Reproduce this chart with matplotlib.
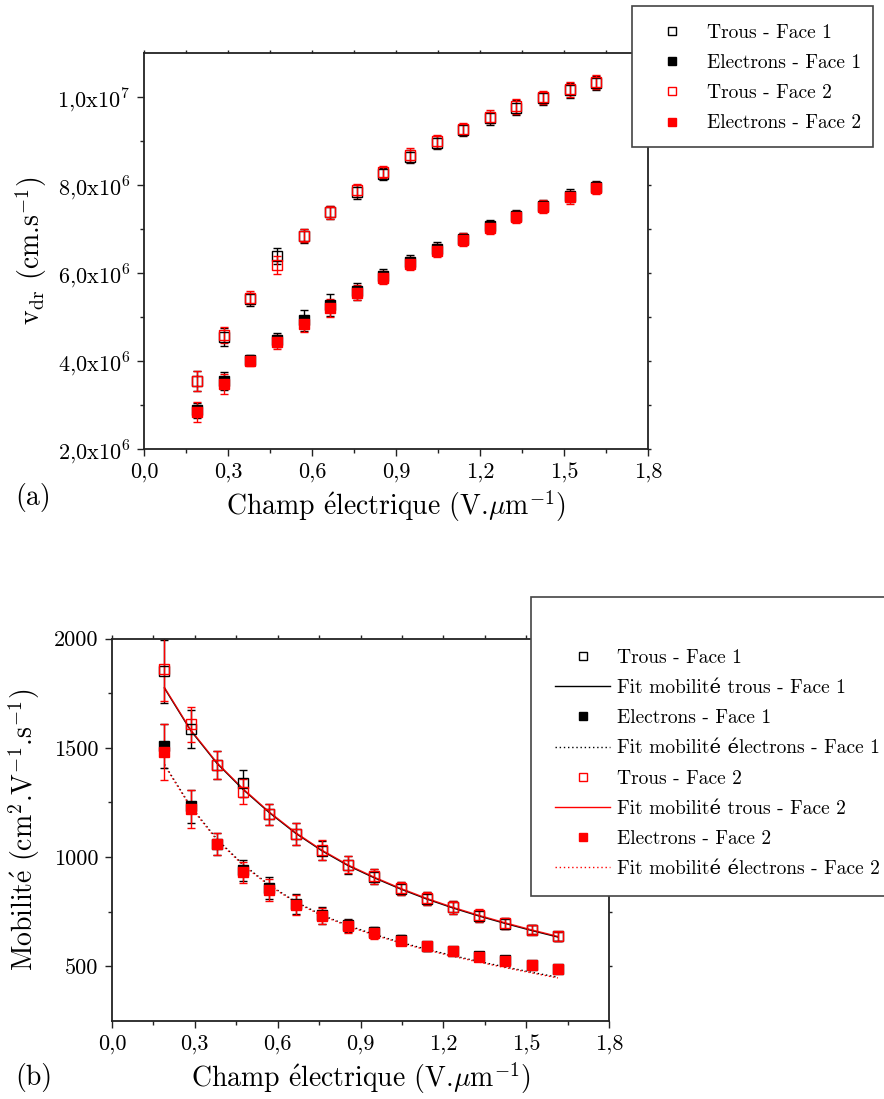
import matplotlib
matplotlib.use("Agg")
import matplotlib.pyplot as plt
from matplotlib.lines import Line2D
from matplotlib.patches import Rectangle
from matplotlib.ticker import FixedLocator, FixedFormatter

# ---------------- data ----------------
E = [0.19, 0.285, 0.38, 0.475, 0.57, 0.665, 0.76, 0.855, 0.95, 1.045, 1.14, 1.235, 1.33, 1.425, 1.52, 1.615]

# (a) drift velocity, in units of 1e6 cm/s
vh1 = [3.55, 4.55, 5.40, 6.38, 6.84, 7.38, 7.84, 8.25, 8.64, 8.96, 9.25, 9.52, 9.76, 9.97, 10.15, 10.32]
vh2 = [3.55, 4.60, 5.44, 6.18, 6.85, 7.38, 7.88, 8.29, 8.68, 8.99, 9.28, 9.55, 9.79, 9.99, 10.18, 10.35]
ve1 = [2.88, 3.55, 4.02, 4.47, 4.93, 5.27, 5.58, 5.93, 6.26, 6.55, 6.78, 7.06, 7.30, 7.53, 7.76, 7.96]
ve2 = [2.84, 3.48, 4.00, 4.43, 4.84, 5.21, 5.55, 5.89, 6.21, 6.51, 6.76, 7.03, 7.28, 7.51, 7.72, 7.93]
evh1 = [0.23, 0.20, 0.14, 0.18, 0.15, 0.15, 0.15, 0.14, 0.15, 0.15, 0.14, 0.15, 0.17, 0.15, 0.17, 0.16]
evh2 = [0.23, 0.18, 0.14, 0.20, 0.15, 0.15, 0.15, 0.14, 0.15, 0.15, 0.14, 0.15, 0.17, 0.15, 0.17, 0.16]
eve1 = [0.17, 0.20, 0.12, 0.16, 0.24, 0.25, 0.20, 0.15, 0.15, 0.15, 0.14, 0.14, 0.14, 0.14, 0.15, 0.14]
eve2 = [0.22, 0.23, 0.12, 0.16, 0.18, 0.20, 0.17, 0.15, 0.15, 0.15, 0.14, 0.14, 0.14, 0.14, 0.15, 0.14]

# (b) mobility, cm2/(V.s)
mh1 = [1850, 1585, 1420, 1337, 1195, 1104, 1030, 963, 910, 855, 809, 770, 732, 696, 668, 637]
mh2 = [1860, 1608, 1421, 1299, 1195, 1104, 1032, 965, 912, 857, 811, 770, 733, 698, 668, 637]
me1 = [1508, 1233, 1058, 940, 859, 785, 733, 688, 655, 620, 592, 570, 547, 527, 508, 490]
me2 = [1481, 1221, 1058, 931, 849, 781, 730, 684, 651, 618, 591, 568, 545, 525, 506, 489]
emh1 = [145, 88, 65, 60, 50, 50, 45, 40, 35, 30, 30, 30, 28, 25, 22, 20]
emh2 = [145, 80, 65, 57, 50, 50, 45, 40, 35, 30, 30, 30, 28, 25, 22, 20]
eme1 = [100, 75, 50, 48, 50, 47, 37, 30, 25, 22, 20, 18, 15, 15, 15, 15]
eme2 = [130, 88, 50, 48, 51, 47, 37, 30, 25, 22, 20, 18, 15, 15, 15, 15]
fit_h1 = [1773, 1579, 1429, 1309, 1203, 1109, 1029, 961, 905, 854, 808, 767, 730, 696, 664, 634]
fit_h2 = [1776, 1582, 1432, 1312, 1206, 1112, 1032, 964, 908, 857, 811, 770, 733, 699, 667, 637]
fit_e1 = [1424, 1232, 1082, 966, 872, 796, 735, 687, 646, 610, 578, 549, 522, 497, 473, 450]
fit_e2 = [1420, 1228, 1078, 962, 869, 793, 732, 684, 643, 607, 575, 546, 519, 494, 470, 447]

xticks = [0.0, 0.3, 0.6, 0.9, 1.2, 1.5, 1.8]
xtick_labels = ['0,0', '0,3', '0,6', '0,9', '1,2', '1,5', '1,8']
xminor = [0.15, 0.45, 0.75, 1.05, 1.35, 1.65]
ya_ticks = [2, 4, 6, 8, 10]
ya_labels = [r'2,0x10$^{6}$', r'4,0x10$^{6}$', r'6,0x10$^{6}$', r'8,0x10$^{6}$', r'1,0x10$^{7}$']
ya_minor = [3, 5, 7, 9]
yb_ticks = [500, 1000, 1500, 2000]
yb_labels = ['500', '1000', '1500', '2000']
yb_minor = [750, 1250, 1750]

xlabel = r'Champ $\acute{\mathrm{e}}$lectrique (V.$\mu$m$^{-1}$)'
ylabel_a = r'v$_{\rm dr}$ (cm.s$^{-1}$)'
ylabel_b = r'Mobilit$\acute{\mathrm{e}}$ (cm$^{2}$.V$^{-1}$.s$^{-1}$)'

legend_a = ['Trous - Face 1', 'Electrons - Face 1', 'Trous - Face 2', 'Electrons - Face 2']
legend_b = ['Trous - Face 1', 'Fit mobilité trous - Face 1', 'Electrons - Face 1',
            'Fit mobilité électrons - Face 1', 'Trous - Face 2', 'Fit mobilité trous - Face 2',
            'Electrons - Face 2', 'Fit mobilité électrons - Face 2']

# ---------------- style ----------------
plt.rcParams['font.family'] = ['cmr10', 'DejaVu Serif']
plt.rcParams['mathtext.fontset'] = 'cm'
plt.rcParams['axes.unicode_minus'] = True

RED = '#ff0000'
BLK = '#000000'
W, H = 884, 1099
fig = plt.figure(figsize=(W / 100, H / 100), dpi=100)

def fx(px):
    return px / W

def fy(py):
    return 1 - py / H

ax1 = fig.add_axes([fx(144), fy(449), fx(648) - fx(144), fy(53) - fy(449)])
ax2 = fig.add_axes([fx(112), fy(1021), fx(609) - fx(112), fy(638.5) - fy(1021)])

ms = 6.5
mew = 1.0
eb = dict(elinewidth=1.0, capsize=2.6, capthick=1.0, linestyle='none')

def setup(ax, yt, yl, ym, ylim):
    ax.set_xlim(0, 1.8)
    ax.set_ylim(*ylim)
    ax.xaxis.set_major_locator(FixedLocator(xticks))
    ax.xaxis.set_major_formatter(FixedFormatter(xtick_labels))
    ax.xaxis.set_minor_locator(FixedLocator(xminor))
    ax.yaxis.set_major_locator(FixedLocator(yt))
    ax.yaxis.set_major_formatter(FixedFormatter(yl))
    ax.yaxis.set_minor_locator(FixedLocator(ym))
    ax.tick_params(which='major', direction='out', length=5, width=1.0, labelsize=16, pad=5, color='#222222')
    ax.tick_params(which='minor', direction='out', length=3, width=1.0, color='#222222')
    for s in ax.spines.values():
        s.set_linewidth(1.3)
        s.set_color('#222222')
    sx = ax.secondary_xaxis('top')
    sx.xaxis.set_major_locator(FixedLocator(xticks))
    sx.xaxis.set_minor_locator(FixedLocator(xminor))
    sx.tick_params(which='both', direction='out', length=2.5, width=1.0, labeltop=False, color='#222222')
    sx.spines['top'].set_visible(False)
    sy = ax.secondary_yaxis('right')
    sy.yaxis.set_major_locator(FixedLocator(yt))
    sy.yaxis.set_minor_locator(FixedLocator(ym))
    sy.tick_params(which='both', direction='out', length=2.5, width=1.0, labelright=False, color='#222222')
    sy.spines['right'].set_visible(False)

# ---- panel (a) ----
setup(ax1, ya_ticks, ya_labels, ya_minor, (2, 11))
for y, e, c, filled in [(vh1, evh1, BLK, False), (ve1, eve1, BLK, True),
                        (vh2, evh2, RED, False), (ve2, eve2, RED, True)]:
    ax1.errorbar(E, y, yerr=e, color=c, ecolor=c, marker='s', ms=ms, mew=mew,
                 mfc=c if filled else 'none', mec=c, **eb)
ax1.set_xlabel(xlabel, fontsize=20, labelpad=4)
ax1.set_ylabel(ylabel_a, fontsize=20, labelpad=6)

# ---- panel (b) ----
setup(ax2, yb_ticks, yb_labels, yb_minor, (250, 2000))
ax2.plot(E, fit_h1, color=BLK, lw=1.0)
ax2.plot(E, fit_e1, color=BLK, lw=1.0, ls=(0, (1, 2)))
ax2.plot(E, fit_h2, color=RED, lw=1.0, alpha=0.85)
ax2.plot(E, fit_e2, color=RED, lw=1.0, ls=(1, (1, 2)))
for y, e, c, filled in [(mh1, emh1, BLK, False), (me1, eme1, BLK, True),
                        (mh2, emh2, RED, False), (me2, eme2, RED, True)]:
    ax2.errorbar(E, y, yerr=e, color=c, ecolor=c, marker='s', ms=ms, mew=mew,
                 mfc=c if filled else 'none', mec=c, **eb)
ax2.set_xlabel(xlabel, fontsize=20, labelpad=4)
ax2.set_ylabel(ylabel_b, fontsize=20, labelpad=8)

fig.text(fx(15), fy(497), '(a)', fontsize=20, va='center', ha='left')
fig.text(fx(15), fy(1078), '(b)', fontsize=20, va='center', ha='left')

# ---- legends ----
def mk(c, filled):
    return Line2D([], [], ls='none', marker='s', ms=6, mew=1.0, mec=c, mfc=c if filled else 'none')

def ln(c, ls):
    return Line2D([], [], color=c, lw=1.0, ls=ls)

frame_kw = dict(transform=fig.transFigure, facecolor='white', edgecolor='#444444', lw=1.2, zorder=4)
fig.add_artist(Rectangle((fx(632), fy(147)), fx(873) - fx(632), fy(6) - fy(147), **frame_kw))
fig.add_artist(Rectangle((fx(531), fy(896)), 0.6, fy(597) - fy(896), **frame_kw))

leg_kw = dict(frameon=False, fontsize=14, loc='upper left', borderpad=0, borderaxespad=0,
              handlelength=2.83, handletextpad=0.36, labelspacing=0.63)
hA = [mk(BLK, False), mk(BLK, True), mk(RED, False), mk(RED, True)]
la = fig.legend(hA, legend_a, bbox_to_anchor=(fx(644.5), fy(24)), **leg_kw)
la.set_zorder(6)
hB = [mk(BLK, False), ln(BLK, '-'), mk(BLK, True), ln(BLK, (0, (1, 2))),
      mk(RED, False), ln(RED, '-'), mk(RED, True), ln(RED, (0, (1, 2)))]
lb = fig.legend(hB, legend_b, bbox_to_anchor=(fx(555), fy(649)), **leg_kw)
lb.set_zorder(6)

fig.savefig('out.png', dpi=100)
